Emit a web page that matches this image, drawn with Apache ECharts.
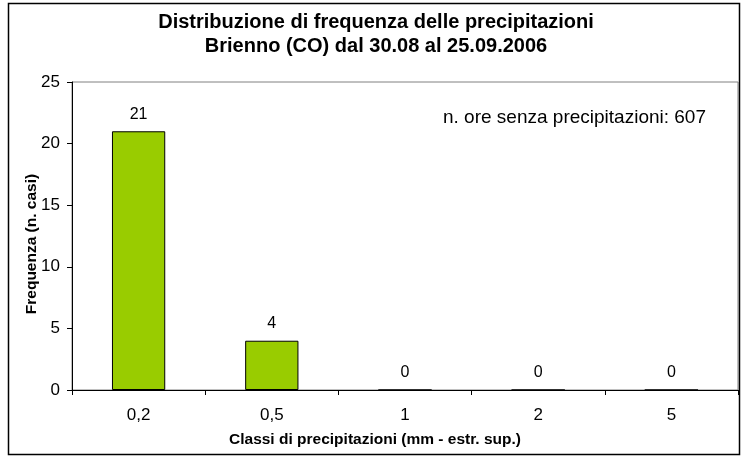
<!DOCTYPE html>
<html>
<head>
<meta charset="utf-8">
<script src="https://cdn.jsdelivr.net/npm/echarts@6/dist/echarts.min.js"></script>
<style>
  html, body { margin: 0; padding: 0; background: #fff; }
  #chart { width: 743px; height: 457px; }
</style>
</head>
<body>
<div id="chart"></div>
<script>
// dati
var classi = ['0,2', '0,5', '1', '2', '5'];
var frequenze = [21, 4, 0, 0, 0];
var yTicks = [0, 5, 10, 15, 20, 25];
var oreSenzaPioggia = 607;

var font = 'Liberation Sans, Arial, sans-serif';
var myChart = echarts.init(document.getElementById('chart'));

var option = {
  animation: false,
  backgroundColor: '#fff',
  title: {
    text: 'Distribuzione di frequenza delle precipitazioni\nBrienno (CO) dal 30.08 al 25.09.2006',
    left: 371,
    textAlign: 'center',
    top: 5,
    textStyle: {
      fontFamily: font,
      fontSize: 20,
      fontWeight: 'bold',
      color: '#000',
      lineHeight: 24
    }
  },
  graphic: [
    {
      type: 'rect',
      shape: { x: 8.5, y: 3.5, width: 731, height: 451 },
      style: { fill: 'none', stroke: '#000', lineWidth: 1.5 },
      z: 100
    },
    {
      type: 'text',
      left: 443,
      top: 108,
      style: {
        text: 'n. ore senza precipitazioni: ' + oreSenzaPioggia,
        fontFamily: font,
        fontSize: 19,
        fill: '#000'
      }
    }
  ],
  grid: {
    left: 72,
    right: 5,
    top: 82,
    bottom: 67,
    show: true,
    borderColor: '#808080',
    borderWidth: 1
  },
  xAxis: {
    type: 'category',
    data: classi,
    name: 'Classi di precipitazioni (mm - estr. sup.)',
    nameLocation: 'middle',
    nameGap: 42,
    nameTextStyle: { fontFamily: font, fontSize: 15.5, fontWeight: 'bold', color: '#000', padding: [0, 60, 0, 0] },
    axisLine: { lineStyle: { color: '#000', width: 1 } },
    axisTick: { show: true, length: 5, lineStyle: { color: '#000' } },
    axisLabel: { fontFamily: font, fontSize: 17, color: '#000', margin: 17 },
    splitLine: { show: false }
  },
  yAxis: {
    type: 'value',
    min: yTicks[0],
    max: yTicks[yTicks.length - 1],
    interval: 5,
    name: 'Frequenza (n. casi)',
    nameLocation: 'middle',
    nameGap: 32,
    nameMoveOverlap: false,
    nameTextStyle: { fontFamily: font, fontSize: 15.5, fontWeight: 'bold', color: '#000', padding: [0, 16, 0, 0] },
    axisLine: { show: true, lineStyle: { color: '#000', width: 1 } },
    axisTick: { show: true, length: 5, lineStyle: { color: '#000' } },
    axisLabel: { fontFamily: font, fontSize: 17, color: '#000', margin: 12 },
    splitLine: { show: false }
  },
  series: [{
    type: 'bar',
    data: frequenze,
    barCategoryGap: '60%',
    itemStyle: { color: '#99CC00', borderColor: '#000', borderWidth: 1 },
    label: {
      show: true,
      position: 'top',
      distance: 9,
      fontFamily: font,
      fontSize: 16,
      color: '#000'
    }
  }]
};

myChart.setOption(option);
</script>
</body>
</html>
